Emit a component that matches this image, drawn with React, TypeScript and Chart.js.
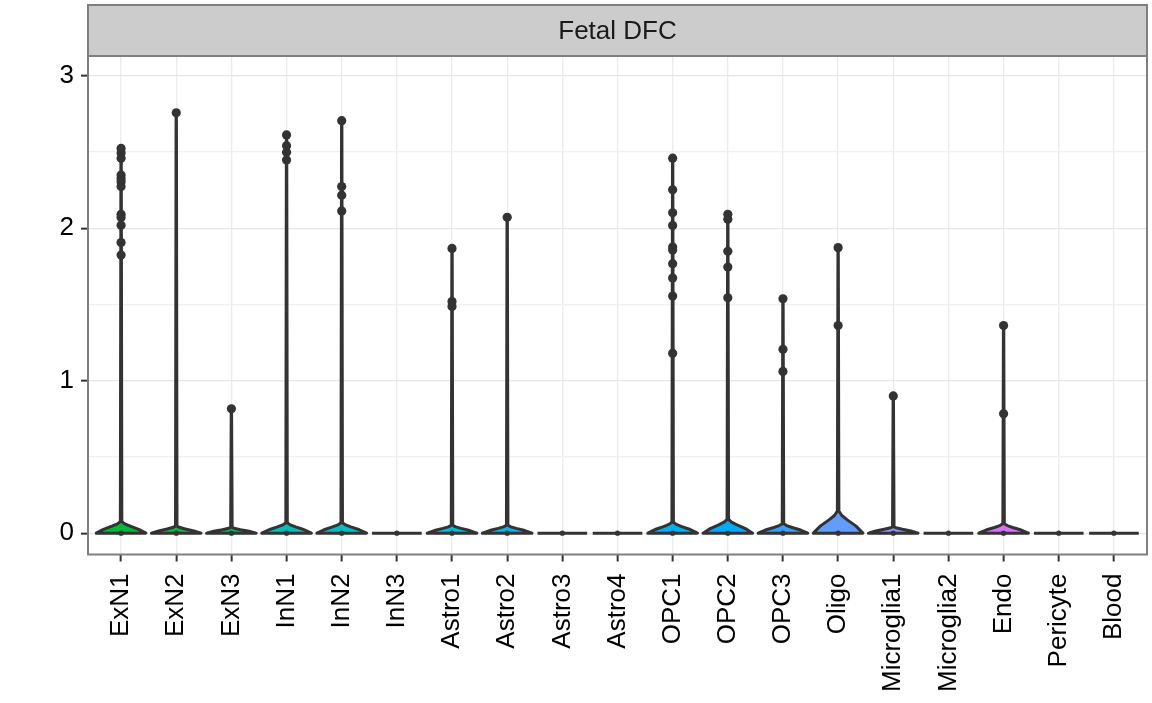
import React, { useEffect, useRef } from "react";
import { Chart, registerables } from "chart.js";

Chart.register(...registerables);

// ---- data ----
const panelTitle = "Fetal DFC";

const categories = [
  "ExN1", "ExN2", "ExN3", "InN1", "InN2", "InN3", "Astro1", "Astro2", "Astro3", "Astro4",
  "OPC1", "OPC2", "OPC3", "Oligo", "Microglia1", "Microglia2", "Endo", "Pericyte", "Blood",
];

const fillColors = [
  "#00BA38", "#00BC4A", "#00BE5C", "#00C0B8", "#00BFC4", "#00BDD0", "#00BCD6", "#00B8E7", "#00B4EF", "#00B2F3",
  "#00B0F6", "#00ABFD", "#35A2FF", "#619CFF", "#9590FF", "#B983FF", "#DB72FB", "#E76BF3", "#F564E3",
];

// height (in y units) of the density bulge at the base of each violin
const bulgeHeights = [
  0.076, 0.046, 0.038, 0.068, 0.068, 0, 0.052, 0.052, 0, 0,
  0.072, 0.09, 0.062, 0.145, 0.042, 0, 0.062, 0, 0,
];

// observed cell values per category (0 = the mass of zero-expression cells)
const pointValues: number[][] = [
  [0, 2.524, 2.494, 2.459, 2.349, 2.327, 2.305, 2.274, 2.092, 2.07, 2.02, 1.906, 1.824],
  [0, 2.757],
  [0, 0.816],
  [0, 2.612, 2.542, 2.498, 2.447],
  [0, 2.706, 2.274, 2.217, 2.114],
  [0],
  [0, 1.868, 1.52, 1.487],
  [0, 2.072],
  [0],
  [0],
  [0, 2.46, 2.252, 2.101, 2.018, 1.877, 1.857, 1.768, 1.673, 1.555, 1.18],
  [0, 2.092, 2.059, 1.849, 1.746, 1.544],
  [0, 1.537, 1.206, 1.061],
  [0, 1.873, 1.362],
  [0, 0.9],
  [0],
  [0, 1.362, 0.783],
  [0],
  [0],
];

// normalised violin outline: [fraction of bulge height, fraction of half width]
const violinProfile: [number, number][] = [
  [0, 1],
  [0.33, 0.71],
  [0.6, 0.37],
  [0.8, 0.15],
  [1, 0.03],
];

const yTicks = [0, 0.5, 1, 1.5, 2, 2.5, 3];

const FONT = "'Liberation Sans', Arial, Helvetica, sans-serif";
const VIOLIN_HALF = 0.45;
const TAIL_HALF = 0.003;

const violinPlugin = {
  id: "violins",
  beforeDatasetsDraw(chart: any) {
    const { ctx, scales } = chart;
    const xs = scales.x;
    const ys = scales.y;
    ctx.save();
    ctx.strokeStyle = "#333333";
    ctx.lineWidth = 3;
    ctx.lineJoin = "round";
    ctx.lineCap = "butt";
    categories.forEach((_, i) => {
      const top = Math.max(...pointValues[i]);
      const h = bulgeHeights[i];
      ctx.beginPath();
      if (top === 0) {
        ctx.moveTo(xs.getPixelForValue(i - VIOLIN_HALF), ys.getPixelForValue(0));
        ctx.lineTo(xs.getPixelForValue(i + VIOLIN_HALF), ys.getPixelForValue(0));
        ctx.stroke();
        return;
      }
      const left: [number, number][] = [];
      const right: [number, number][] = [];
      violinProfile.forEach(([fh, fw]) => {
        const v = Math.min(h * fh, top);
        const w = Math.max(VIOLIN_HALF * fw, TAIL_HALF);
        left.push([i - w, v]);
        right.push([i + w, v]);
      });
      left.push([i - TAIL_HALF, top]);
      right.push([i + TAIL_HALF, top]);
      const pts = [...left, ...right.reverse()];
      pts.forEach(([vx, vy], k) => {
        const px = xs.getPixelForValue(vx);
        const py = ys.getPixelForValue(vy);
        if (k === 0) ctx.moveTo(px, py);
        else ctx.lineTo(px, py);
      });
      ctx.closePath();
      ctx.fillStyle = fillColors[i];
      ctx.fill();
      ctx.stroke();
    });
    ctx.restore();
  },
  afterDraw(chart: any) {
    const { ctx, chartArea } = chart;
    const { left, right, top, bottom } = chartArea;
    ctx.save();
    // panel border
    ctx.strokeStyle = "#7F7F7F";
    ctx.lineWidth = 2;
    ctx.strokeRect(left, top, right - left, bottom - top);
    // strip
    const stripTop = 5;
    ctx.fillStyle = "#CCCCCC";
    ctx.fillRect(left, stripTop, right - left, top - stripTop);
    ctx.strokeRect(left, stripTop, right - left, top - stripTop);
    ctx.fillStyle = "#1A1A1A";
    ctx.font = `26px ${FONT}`;
    ctx.textAlign = "center";
    ctx.textBaseline = "middle";
    ctx.fillText(panelTitle, (left + right) / 2, (stripTop + top) / 2 + 1);
    ctx.restore();
  },
};

export default function App() {
  const canvasRef = useRef<HTMLCanvasElement | null>(null);

  useEffect(() => {
    if (!canvasRef.current) return;
    const data: { x: number; y: number }[] = [];
    pointValues.forEach((vals, i) => vals.forEach((v) => data.push({ x: i, y: v })));

    const chart = new Chart(canvasRef.current, {
      type: "scatter",
      data: {
        datasets: [
          {
            data,
            backgroundColor: "#333333",
            borderWidth: 0,
            pointRadius: (c: any) => (c.raw && c.raw.y === 0 ? 2.6 : 4.6),
            pointHoverRadius: 0,
          },
        ],
      },
      options: {
        responsive: false,
        animation: false,
        events: [],
        layout: { padding: { top: 56, right: 5, left: 0, bottom: 0 } },
        plugins: { legend: { display: false }, tooltip: { enabled: false } },
        scales: {
          x: {
            type: "linear",
            min: -0.6,
            max: 18.6,
            afterBuildTicks: (s: any) => {
              s.ticks = categories.map((_, i) => ({ value: i }));
            },
            afterFit: (s: any) => {
              s.height = 148.5;
              s.paddingLeft = 0;
              s.paddingRight = 0;
            },
            border: { display: false },
            grid: {
              color: "#EBEBEB",
              lineWidth: 1.3,
              tickColor: "#333333",
              tickLength: 7,
              tickWidth: 2,
            },
            ticks: {
              autoSkip: false,
              minRotation: 90,
              maxRotation: 90,
              padding: 12,
              color: "#000000",
              font: { family: FONT, size: 26 },
              callback: (v: any) => categories[Number(v)] ?? "",
            },
          },
          y: {
            type: "linear",
            min: -0.14,
            max: 3.13,
            afterBuildTicks: (s: any) => {
              s.ticks = yTicks.map((v) => ({ value: v }));
            },
            afterFit: (s: any) => {
              s.width = 88;
              s.paddingTop = 0;
              s.paddingBottom = 0;
            },
            border: { display: false },
            grid: {
              color: (c: any) => (c.tick && Number.isInteger(c.tick.value) ? "#E6E6E6" : "#F0F0F0"),
              lineWidth: 1.3,
              tickColor: (c: any) => (c.tick && Number.isInteger(c.tick.value) ? "#333333" : "rgba(0,0,0,0)"),
              tickLength: 7,
              tickWidth: 2,
            },
            ticks: {
              padding: 7,
              color: "#000000",
              font: { family: FONT, size: 26 },
              callback: (v: any) => (Number.isInteger(Number(v)) ? String(v) : ""),
            },
          },
        },
      },
      plugins: [violinPlugin],
    } as any);

    return () => chart.destroy();
  }, []);

  return (
    <div style={{ position: "absolute", left: 0, top: 0, width: 1152, height: 703, background: "#fff" }}>
      <canvas ref={canvasRef} width={1152} height={703} style={{ display: "block" }} />
    </div>
  );
}
